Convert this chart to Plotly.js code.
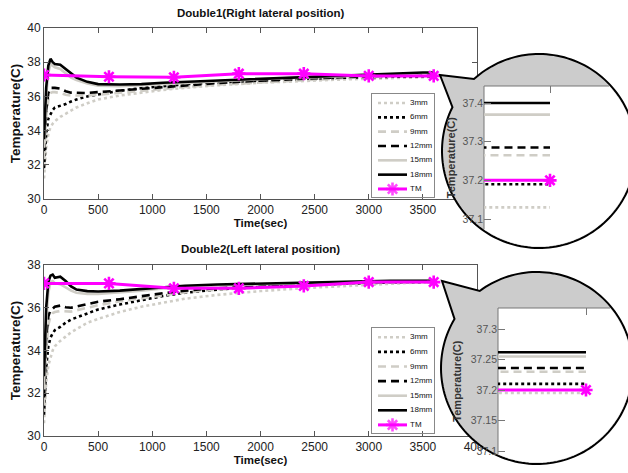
<!DOCTYPE html>
<html>
<head>
<meta charset="utf-8">
<script src="https://cdn.plot.ly/plotly-3.0.1.min.js"></script>
<style>
html,body{margin:0;padding:0;background:#fff;}
#chart{width:628px;height:473px;}
</style>
</head>
<body>
<div id="chart"></div>
<script>
const W = 628, H = 473;
const FONT = 'Liberation Sans, Arial, Helvetica, sans-serif';

// ---------- data ----------
const timeSec   = [0,10,20,40,60,80,100,150,200,250,300,400,500,700,900,1100,1300,1600,2000,2400,2800,3200,3500,3600];
const tmTimeSec = [0,600,1200,1800,2400,3000,3600];
const seriesNames = ['3mm','6mm','9mm','12mm','15mm','18mm'];
const tmName = 'TM';
const plotTitles = ['Double1(Right lateral position)','Double2(Left lateral position)'];
const xTickVals = [0,500,1000,1500,2000,2500,3000,3500,4000];
const xTickTextTop = ['0','500','1000','1500','2000','2500','3000','3500',''];      // 4000 hidden under the callout
const xTickTextBottom = ['0','500','1000','1500','2000','2500','3000','3500','4000'];
const yTicksTop = [30,32,34,36,38,40];
const yTicksBottom = [30,32,34,36,38];
const insetTicksTop = [37.1,37.2,37.3,37.4];
const insetTicksBottom = [37.1,37.15,37.2,37.25,37.3];

// Double1 (right lateral position)
const d1_3mm  = [31.2,32.2,33.0,33.8,34.2,34.4,34.55,34.8,35.0,35.2,35.35,35.6,35.82,36.05,36.22,36.38,36.5,36.65,36.8,36.92,37.0,37.07,37.13,37.13];
const d1_6mm  = [31.8,32.8,33.8,34.7,35.0,35.2,35.35,35.45,35.55,35.7,35.82,36.0,36.12,36.33,36.48,36.6,36.7,36.82,36.94,37.03,37.1,37.15,37.19,37.19];
const d1_9mm  = [32.4,33.6,34.8,35.8,36.2,36.25,36.25,36.2,36.1,36.05,36.05,36.05,36.1,36.22,36.35,36.45,36.55,36.68,36.82,36.95,37.07,37.18,37.265,37.265];
const d1_12mm = [32.8,34.0,35.2,36.2,36.5,36.5,36.5,36.45,36.3,36.22,36.2,36.2,36.25,36.35,36.45,36.55,36.65,36.78,36.92,37.04,37.14,37.22,37.285,37.285];
const d1_15mm = [33.0,34.5,36.0,37.4,37.9,37.8,37.7,37.6,37.35,37.1,36.95,36.75,36.62,36.6,36.65,36.72,36.8,36.9,37.0,37.1,37.2,37.3,37.37,37.37];
const d1_18mm = [33.5,35.0,36.5,37.8,38.2,38.0,37.9,37.85,37.6,37.3,37.1,36.85,36.72,36.7,36.72,36.8,36.85,36.95,37.05,37.15,37.25,37.33,37.4,37.4];
const d1_TM   = [37.25,37.15,37.12,37.33,37.33,37.2,37.2];

// Double2 (left lateral position)
const d2_3mm  = [30.6,31.6,32.5,33.3,33.7,34.0,34.2,34.45,34.65,34.85,35.0,35.3,35.48,35.8,36.05,36.25,36.42,36.6,36.78,36.92,37.03,37.12,37.195,37.195];
const d2_6mm  = [31.0,32.2,33.2,34.2,34.6,34.8,34.95,35.1,35.3,35.45,35.55,35.75,35.92,36.15,36.35,36.55,36.7,36.85,36.98,37.07,37.13,37.18,37.21,37.21];
const d2_9mm  = [31.5,32.8,34.0,35.2,35.6,35.75,35.8,35.85,35.82,35.82,35.88,36.0,36.12,36.3,36.45,36.6,36.72,36.85,36.97,37.06,37.13,37.19,37.23,37.23];
const d2_12mm = [31.8,33.3,34.6,35.6,35.9,35.95,36.05,36.1,36.02,36.0,36.05,36.15,36.28,36.4,36.55,36.68,36.8,36.92,37.02,37.1,37.16,37.21,37.236,37.236];
const d2_15mm = [32.3,33.8,35.3,36.7,37.2,37.25,37.15,37.1,36.95,36.8,36.7,36.65,36.65,36.72,36.8,36.9,36.97,37.04,37.1,37.16,37.2,37.24,37.255,37.255];
const d2_18mm = [32.8,34.5,36.0,37.2,37.5,37.55,37.4,37.45,37.25,37.0,36.85,36.78,36.76,36.8,36.88,36.97,37.03,37.09,37.14,37.19,37.23,37.255,37.262,37.262];
const d2_TM   = [37.14,37.14,36.91,36.91,37.02,37.2,37.2];

// ---------- styles ----------
const LG = '#cfcdc6';
const TMC = '#ff00ff';
const seriesStyles = [
  {color: LG,     dash: 'dot'},
  {color: '#000', dash: 'dot'},
  {color: LG,     dash: '8px,5px'},
  {color: '#000', dash: '8px,5px'},
  {color: LG,     dash: 'solid'},
  {color: '#000', dash: 'solid'}
];
const LW = 2.6;
const tmMarker = {symbol: 'asterisk-open', size: 11, color: TMC, line: {color: TMC, width: 2.6}};

// ---------- geometry (pixels) ----------
const panels = [
  {
    series: [d1_3mm, d1_6mm, d1_9mm, d1_12mm, d1_15mm, d1_18mm], tm: d1_TM,
    title: plotTitles[0], titleY: 13, xTickText: xTickTextTop,
    main: {l: 44, r: 477, t: 28, b: 199, yr: [30, 40], ticks: yTicksTop},
    call: {cx: 539, cy: 151, r: 97, tip: [440, 75], up: [473, 78], lo: [452, 107]},
    inset: {l: 484, t: 86, tickPx: 550, cal: [[37.4, 103], [37.1, 219]], ticks: insetTicksTop, standoff: 4},
    leg: {l: 372, r: 434, t: 94, b: 197, first: 103, step: 14.33}
  },
  {
    series: [d2_3mm, d2_6mm, d2_9mm, d2_12mm, d2_15mm, d2_18mm], tm: d2_TM,
    title: plotTitles[1], titleY: 249, xTickText: xTickTextBottom,
    main: {l: 44, r: 477, t: 265, b: 436, yr: [30, 38], ticks: yTicksBottom},
    call: {cx: 537, cy: 368, r: 96, tip: [442, 281], up: [479, 290], lo: [453, 318]},
    inset: {l: 498, t: 308, tickPx: 586, cal: [[37.3, 329], [37.1, 451]], ticks: insetTicksBottom, standoff: 6},
    leg: {l: 372, r: 434, t: 328, b: 433, first: 337.3, step: 14.6}
  }
];

const traces = [];
const shapes = [];
const annotations = [];
const layout = {
  width: W, height: H,
  margin: {l: 0, r: 0, t: 0, b: 0},
  paper_bgcolor: '#ffffff',
  plot_bgcolor: 'rgba(0,0,0,0)',
  font: {family: FONT, color: '#111'},
  showlegend: false,
  shapes: shapes,
  annotations: annotations
};

function calloutPath(c) {
  const aU = Math.atan2(c.up[1] - c.cy, c.up[0] - c.cx);
  let aL = Math.atan2(c.lo[1] - c.cy, c.lo[0] - c.cx);
  if (aL < aU) aL += 2 * Math.PI;
  let p = 'M' + c.tip[0] + ',' + c.tip[1];
  const n = 160;
  for (let i = 0; i <= n; i++) {
    const a = aU + (aL - aU) * i / n;
    p += 'L' + (c.cx + c.r * Math.cos(a)).toFixed(2) + ',' + (c.cy + c.r * Math.sin(a)).toFixed(2);
  }
  return p + 'Z';
}

panels.forEach(function (P, pi) {
  const mS = pi === 0 ? '' : '2';
  const cS = String(3 + pi), iS = String(5 + pi), lS = String(7 + pi);
  const m = P.main, c = P.call, ins = P.inset, lg = P.leg;

  // ---- main axes ----
  layout['xaxis' + mS] = {
    domain: [m.l / W, m.r / W], range: [0, 4000], anchor: 'y' + mS,
    tickvals: xTickVals, ticktext: P.xTickText, ticks: 'inside', ticklen: 5, tickcolor: '#555',
    mirror: 'ticks', showline: true, linecolor: '#555', linewidth: 1,
    showgrid: false, zeroline: false, fixedrange: true,
    tickfont: {size: 12, color: '#222'},
    title: {text: 'Time(sec)', font: {size: 11.5, weight: 'bold', color: '#111'}, standoff: 2}
  };
  layout['yaxis' + mS] = {
    domain: [1 - m.b / H, 1 - m.t / H], range: m.yr, anchor: 'x' + mS,
    tickvals: m.ticks, ticks: 'inside', ticklen: 5, tickcolor: '#555',
    mirror: 'ticks', showline: true, linecolor: '#555', linewidth: 1,
    showgrid: false, zeroline: false, fixedrange: true,
    tickfont: {size: 12, color: '#222'},
    title: {text: 'Temperature(C)', font: {size: 13.5, weight: 'bold', color: '#111'}, standoff: 3}
  };
  annotations.push({
    text: P.title, xref: 'paper', yref: 'paper',
    x: (m.l + m.r) / 2 / W, y: 1 - P.titleY / H, xanchor: 'center', yanchor: 'middle',
    showarrow: false, font: {size: 11.5, weight: 'bold', color: '#111'}
  });

  // ---- callout background subplot (pixel units) ----
  const L = Math.min(c.tip[0], c.cx - c.r) - 3, R = W, T = c.cy - c.r - 3, B = c.cy + c.r + 3;
  layout['xaxis' + cS] = {domain: [L / W, R / W], range: [L, R], anchor: 'y' + cS, visible: false, fixedrange: true};
  layout['yaxis' + cS] = {domain: [1 - B / H, 1 - T / H], range: [B, T], anchor: 'x' + cS, visible: false, fixedrange: true};
  const rr = c.r - 1.4;
  const xr = c.cx + Math.sqrt(rr * rr - (ins.t - c.cy) * (ins.t - c.cy));
  const yb = c.cy + Math.sqrt(rr * rr - (ins.l - c.cx) * (ins.l - c.cx));
  const a1 = Math.atan2(ins.t - c.cy, xr - c.cx), a2 = Math.atan2(yb - c.cy, ins.l - c.cx);
  let wp = 'M' + ins.l + ',' + ins.t + 'L' + xr.toFixed(2) + ',' + ins.t;
  for (let i = 0; i <= 100; i++) {
    const a = a1 + (a2 - a1) * i / 100;
    wp += 'L' + (c.cx + rr * Math.cos(a)).toFixed(2) + ',' + (c.cy + rr * Math.sin(a)).toFixed(2);
  }
  wp += 'L' + ins.l + ',' + yb.toFixed(2) + 'Z';
  const ref = {xref: 'x' + cS, yref: 'y' + cS, layer: 'below'};
  shapes.push(Object.assign({type: 'path', path: calloutPath(c), fillcolor: '#cccccc', line: {color: '#000', width: 2}}, ref));
  shapes.push(Object.assign({type: 'path', path: wp, fillcolor: '#ffffff', line: {width: 0}}, ref));
  shapes.push(Object.assign({type: 'line', x0: ins.l, x1: xr, y0: ins.t, y1: ins.t, line: {color: '#777', width: 1}}, ref));
  shapes.push(Object.assign({type: 'line', x0: ins.l, x1: ins.l, y0: ins.t, y1: yb, line: {color: '#777', width: 1}}, ref));

  // ---- inset (magnified) axes ----
  const s = (ins.tickPx - ins.l) / 20;
  const v1 = ins.cal[0][0], p1 = ins.cal[0][1], v2 = ins.cal[1][0], p2 = ins.cal[1][1];
  const k = (p2 - p1) / (v1 - v2);
  layout['xaxis' + iS] = {
    domain: [ins.l / W, xr / W], range: [3580, 3580 + (xr - ins.l) / s], anchor: 'y' + iS,
    side: 'top', ticks: 'inside', ticklen: 7, tickcolor: '#777', tickvals: [3600],
    showticklabels: false, showline: false, showgrid: false, zeroline: false, fixedrange: true
  };
  layout['yaxis' + iS] = {
    domain: [1 - yb / H, 1 - ins.t / H], range: [v1 - (yb - p1) / k, v1 + (p1 - ins.t) / k], anchor: 'x' + iS,
    ticks: 'inside', ticklen: 7, tickcolor: '#777', tickvals: ins.ticks, ticktext: ins.ticks.map(String),
    tickfont: {size: 10.5, color: '#555'},
    showline: false, showgrid: false, zeroline: false, fixedrange: true,
    title: {text: 'Temperature(C)', font: {size: 11, weight: 'bold', color: '#333'}, standoff: ins.standoff}
  };

  // ---- legend box subplot ----
  const kTop = -(lg.first - lg.t) / lg.step;
  const kBot = 6 + (lg.b - (lg.first + 6 * lg.step)) / lg.step;
  const boxAx = {showline: true, mirror: true, linecolor: '#888', linewidth: 1, ticks: '', showticklabels: false,
                 showgrid: false, zeroline: false, fixedrange: true};
  layout['xaxis' + lS] = Object.assign({domain: [lg.l / W, lg.r / W], range: [lg.l, lg.r], anchor: 'y' + lS}, boxAx);
  layout['yaxis' + lS] = Object.assign({domain: [1 - lg.b / H, 1 - lg.t / H], range: [kBot, kTop], anchor: 'x' + lS}, boxAx);

  // ---- traces ----
  P.series.forEach(function (ys, si) {
    const st = seriesStyles[si];
    const line = {color: st.color, dash: st.dash, width: LW};
    traces.push({x: timeSec, y: ys, name: seriesNames[si], mode: 'lines', line: line, xaxis: 'x' + mS, yaxis: 'y' + mS, hoverinfo: 'skip'});
    traces.push({x: timeSec, y: ys, name: seriesNames[si], mode: 'lines', line: line, xaxis: 'x' + iS, yaxis: 'y' + iS, hoverinfo: 'skip'});
    traces.push({
      x: [lg.l + 6, lg.l + 35, null, lg.l + 38], y: [si, si, si, si],
      text: ['', '', '', seriesNames[si]], mode: 'lines+text', textposition: 'middle right',
      textfont: {size: 8, color: '#111'}, line: line, xaxis: 'x' + lS, yaxis: 'y' + lS, hoverinfo: 'skip'
    });
  });
  const tmLine = {color: TMC, width: 3};
  traces.push({x: tmTimeSec, y: P.tm, name: tmName, mode: 'lines+markers', line: tmLine, marker: tmMarker, xaxis: 'x' + mS, yaxis: 'y' + mS, hoverinfo: 'skip'});
  traces.push({x: tmTimeSec, y: P.tm, name: tmName, mode: 'lines+markers', line: tmLine, marker: tmMarker, xaxis: 'x' + iS, yaxis: 'y' + iS, hoverinfo: 'skip', cliponaxis: false});
  traces.push({
    x: [lg.l + 6, lg.l + 20.5, lg.l + 35, null, lg.l + 38], y: [6, 6, 6, 6, 6],
    text: ['', '', '', '', tmName], mode: 'lines+markers+text', textposition: 'middle right',
    textfont: {size: 8, color: '#111'}, line: tmLine,
    marker: Object.assign({}, tmMarker, {size: [0, 11, 0, 0, 0]}),
    xaxis: 'x' + lS, yaxis: 'y' + lS, hoverinfo: 'skip'
  });
});

Plotly.newPlot('chart', traces, layout, {displayModeBar: false, staticPlot: true});
</script>
</body>
</html>
